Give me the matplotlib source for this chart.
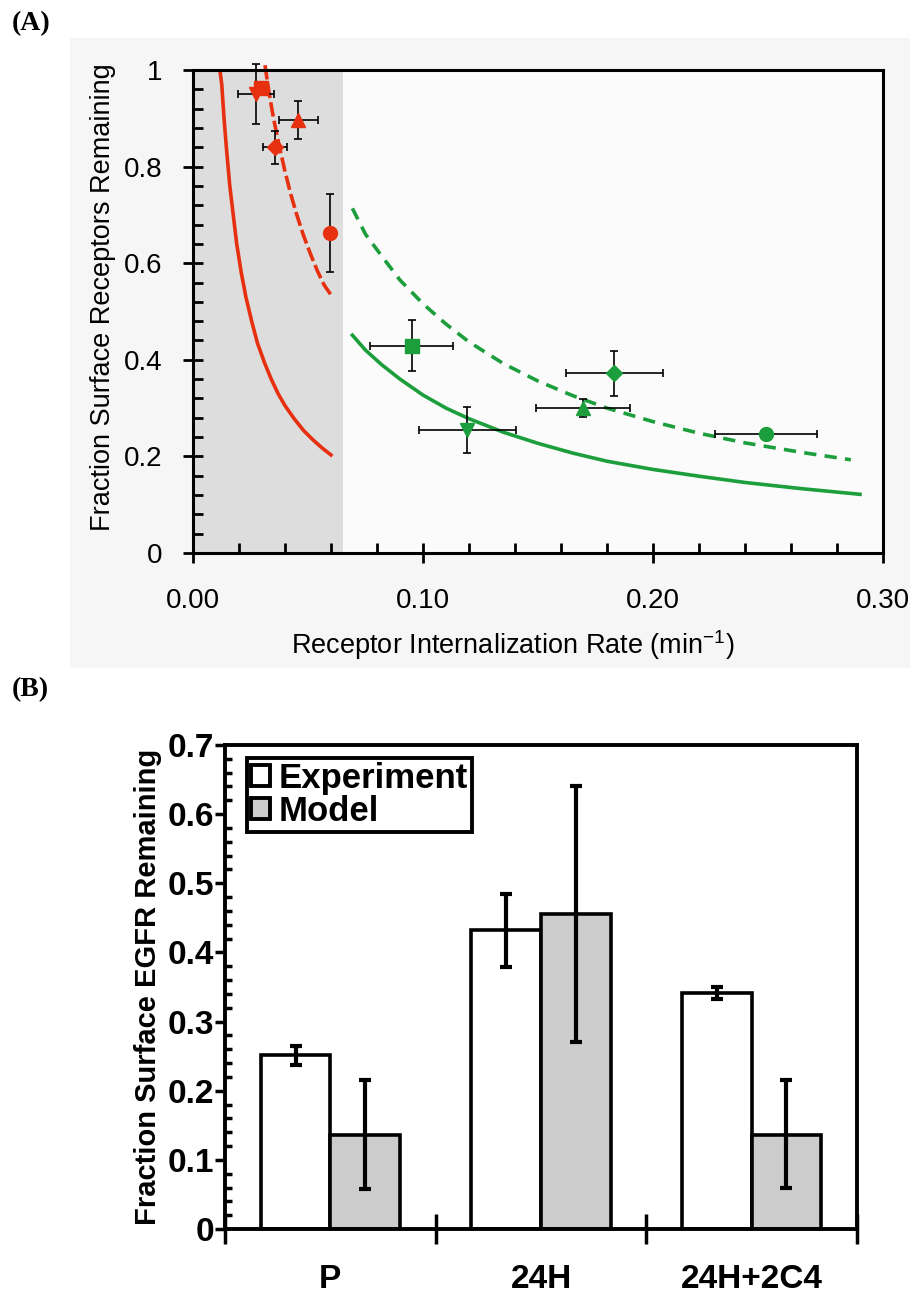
import matplotlib
matplotlib.use('Agg')
import matplotlib.pyplot as plt
from matplotlib.patches import Patch
from matplotlib.ticker import MultipleLocator, FixedLocator

# ---------------- panel A data ----------------
red = '#e6300f'
green = '#1c9e3c'

red_solid_x = [0.0117, 0.0125, 0.0135, 0.0145, 0.016, 0.0175, 0.019, 0.021, 0.023, 0.0255,
               0.028, 0.031, 0.034, 0.037, 0.040, 0.044, 0.048, 0.052, 0.056, 0.060]
red_solid_y = [1.0, 0.97, 0.90, 0.84, 0.76, 0.70, 0.64, 0.58, 0.53, 0.48,
               0.435, 0.395, 0.36, 0.33, 0.305, 0.278, 0.254, 0.235, 0.218, 0.203]
red_dash_x = [0.0313, 0.033, 0.035, 0.0375, 0.040, 0.0425, 0.045, 0.048, 0.051, 0.054, 0.057, 0.0599]
red_dash_y = [1.01, 0.955, 0.90, 0.843, 0.79, 0.743, 0.702, 0.658, 0.62, 0.585, 0.555, 0.535]

green_solid_x = [0.0693, 0.075, 0.082, 0.09, 0.10, 0.11, 0.12, 0.135, 0.15, 0.165,
                 0.18, 0.20, 0.22, 0.24, 0.265, 0.29]
green_solid_y = [0.451, 0.42, 0.39, 0.36, 0.327, 0.30, 0.278, 0.25, 0.227, 0.207,
                 0.19, 0.173, 0.159, 0.146, 0.133, 0.1215]
green_dash_x = [0.0693, 0.075, 0.082, 0.09, 0.10, 0.11, 0.12, 0.135, 0.15, 0.165,
                0.18, 0.20, 0.22, 0.24, 0.265, 0.286]
green_dash_y = [0.7135, 0.66, 0.615, 0.565, 0.516, 0.474, 0.437, 0.392, 0.356, 0.326,
                0.30, 0.272, 0.248, 0.228, 0.208, 0.193]

# markers: (marker, x, y, xerr, yerr)
red_points = [
    ('s', 0.0295, 0.962, 0.0, 0.0),
    ('v', 0.0275, 0.950, 0.0078, 0.062),
    ('^', 0.0458, 0.897, 0.0084, 0.039),
    ('D', 0.0357, 0.840, 0.0053, 0.034),
    ('o', 0.0596, 0.662, 0.0, 0.081),
]
green_points = [
    ('s', 0.0950, 0.429, 0.018, 0.053),
    ('v', 0.1193, 0.255, 0.021, 0.048),
    ('^', 0.1695, 0.300, 0.0205, 0.018),
    ('D', 0.1832, 0.372, 0.021, 0.047),
    ('o', 0.2491, 0.246, 0.0223, 0.005),
]
shade_end = 0.065

# ---------------- panel B data ----------------
groups = ['P', '24H', '24H+2C4']
exp_vals = [0.251, 0.432, 0.341]
exp_err = [0.014, 0.053, 0.009]
model_vals = [0.136, 0.455, 0.136]
model_lo = [0.078, 0.185, 0.076]
model_hi = [0.079, 0.185, 0.079]

W, H = 924, 1294
fig = plt.figure(figsize=(W / 100, H / 100), dpi=100)
fig.patch.set_facecolor('white')

sans = ['Liberation Sans', 'DejaVu Sans']
serif = ['Liberation Serif', 'DejaVu Serif']

# light backdrop behind panel A
bg = fig.add_axes([70 / W, 1 - 668 / H, 840 / W, 630 / H], zorder=-5)
bg.set_facecolor('#f6f6f6')
bg.set_xticks([])
bg.set_yticks([])
for s in bg.spines.values():
    s.set_visible(False)

# ================= panel A =================
axA = fig.add_axes([193 / W, 1 - 553 / H, 690 / W, 483 / H])
axA.set_facecolor('#fbfbfb')
axA.axvspan(0, shade_end, color='#dddddd', zorder=0, lw=0)

axA.plot(red_solid_x, red_solid_y, color=red, lw=2.6)
axA.plot(red_dash_x, red_dash_y, color=red, lw=2.6, dashes=(4, 1.2), clip_on=False)
axA.plot(green_solid_x, green_solid_y, color=green, lw=2.6)
axA.plot(green_dash_x, green_dash_y, color=green, lw=2.6, dashes=(3.4, 2.3))

for pts, col in [(red_points, red), (green_points, green)]:
    for m, x, y, xe, ye in pts:
        ms = 8.5 if m == 'D' else 10
        axA.errorbar(x, y, xerr=xe if xe else None, yerr=ye if ye else None,
                     fmt=m, color=col, ms=ms, mec=col, ecolor='black',
                     elinewidth=1.2, capsize=3.2, capthick=1.2, clip_on=False, zorder=5)

axA.set_xlim(0, 0.3)
axA.set_ylim(0, 1)
axA.set_xticks([0, 0.1, 0.2, 0.3])
axA.set_xticklabels(['0.00', '0.10', '0.20', '0.30'])
axA.set_yticks([0, 0.2, 0.4, 0.6, 0.8, 1.0])
axA.set_yticklabels(['0', '0.2', '0.4', '0.6', '0.8', '1'])
axA.xaxis.set_minor_locator(MultipleLocator(0.02))
axA.yaxis.set_minor_locator(MultipleLocator(0.04))
axA.tick_params(which='major', direction='inout', length=14, width=2, labelsize=20)
axA.tick_params(which='minor', direction='in', length=7, width=2)
axA.tick_params(axis='x', which='major', pad=18)
axA.tick_params(axis='y', which='major', pad=15)
for lab in axA.get_xticklabels() + axA.get_yticklabels():
    lab.set_family(sans)
for s in axA.spines.values():
    s.set_linewidth(2.2)
axA.set_xlabel('Receptor Internalization Rate (min$^{\\mathregular{-1}}$)', family=sans, fontsize=19.5)
axA.set_ylabel('Fraction Surface Receptors Remaining', family=sans, fontsize=19.5)
axA.xaxis.set_label_coords(0.464, -0.155)
axA.yaxis.set_label_coords(-0.112, 0.53)

fig.text(12 / W, 1 - 24 / H, '(A)', family=serif, fontweight='bold', fontsize=20, va='center', ha='left')
fig.text(12 / W, 1 - 690 / H, '(B)', family=serif, fontweight='bold', fontsize=20, va='center', ha='left')

# ================= panel B =================
axB = fig.add_axes([225 / W, 1 - 1229 / H, 632 / W, 484 / H])
xs = list(range(len(groups)))
bw = 0.33
xe = [x - bw / 2 for x in xs]
xm = [x + bw / 2 for x in xs]
axB.bar(xe, exp_vals, bw, color='white', edgecolor='black', lw=2.6, zorder=2)
axB.bar(xm, model_vals, bw, color='#cccccc', edgecolor='black', lw=2.6, zorder=2)
axB.errorbar(xe, exp_vals, yerr=exp_err, fmt='none', ecolor='black', elinewidth=3, capsize=4, capthick=3, zorder=3)
axB.errorbar(xm, model_vals, yerr=[model_lo, model_hi], fmt='none', ecolor='black', elinewidth=3, capsize=4, capthick=3, zorder=3)

axB.set_xlim(-0.5, 2.5)
axB.set_ylim(0, 0.7)
axB.xaxis.set_major_locator(FixedLocator([-0.5, 0.5, 1.5, 2.5]))
axB.xaxis.set_major_formatter(plt.NullFormatter())
axB.xaxis.set_minor_locator(FixedLocator(xs))
axB.set_xticklabels(groups, minor=True)
axB.tick_params(axis='x', which='major', direction='inout', length=22, width=2.5)
axB.tick_params(axis='x', which='minor', length=0, pad=25, labelsize=24)
axB.set_yticks([i / 10 for i in range(8)])
axB.set_yticklabels(['0'] + ['%.1f' % (i / 10) for i in range(1, 8)])
axB.yaxis.set_minor_locator(MultipleLocator(0.02))
axB.tick_params(axis='y', which='major', direction='out', length=7, width=2.5, labelsize=24, pad=1)
axB.tick_params(axis='y', which='minor', direction='in', length=5, width=2.5)
for lab in axB.get_xticklabels(minor=True) + axB.get_yticklabels():
    lab.set_family(sans)
    lab.set_fontweight('bold')
for s in axB.spines.values():
    s.set_linewidth(2.8)
axB.set_ylabel('Fraction Surface EGFR Remaining', family=sans, fontweight='bold', fontsize=21, labelpad=4)

handles = [Patch(facecolor='white', edgecolor='black', lw=2.8),
           Patch(facecolor='#cccccc', edgecolor='black', lw=2.8)]
leg = axB.legend(handles, ['Experiment', 'Model'], loc='upper left',
                 bbox_to_anchor=(247 / W, 1 - 758 / H), bbox_transform=fig.transFigure,
                 prop={'family': sans, 'weight': 'bold', 'size': 25}, fancybox=False,
                 handlelength=0.55, handleheight=0.55, handletextpad=0.25, borderpad=0.12,
                 labelspacing=0.0, borderaxespad=0)
leg.get_frame().set_edgecolor('black')
leg.get_frame().set_linewidth(2.8)
leg.get_frame().set_alpha(1)

fig.savefig('out.png', dpi=100, facecolor=fig.get_facecolor())
